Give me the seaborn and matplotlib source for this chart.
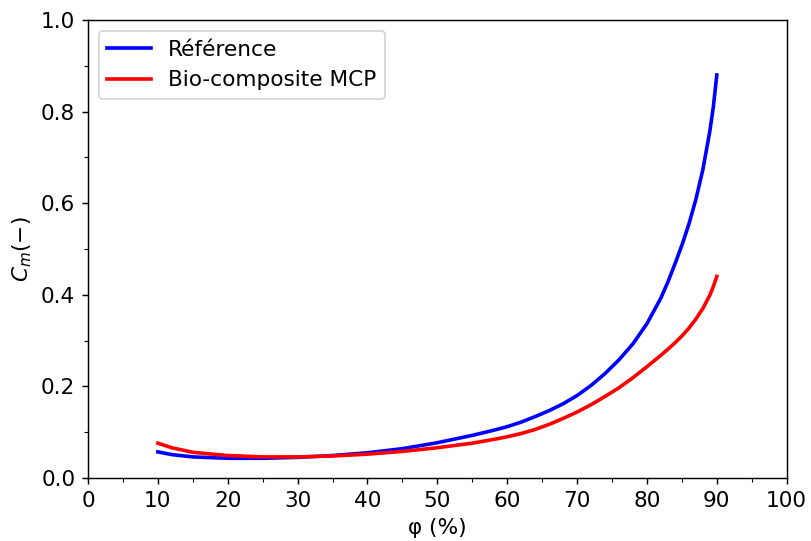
import matplotlib
matplotlib.use("Agg")
import matplotlib.pyplot as plt
from matplotlib.ticker import MultipleLocator
import seaborn as sns
import pandas as pd

phi = [10, 12, 15, 20, 25, 30, 35, 40, 45, 50, 55, 58, 60, 62, 64, 66, 68, 70, 72, 74, 76, 78,
       80, 82, 83, 84, 85, 86, 87, 88, 89, 89.5, 90]
cm_reference = [0.057, 0.051, 0.046, 0.043, 0.043, 0.045, 0.049, 0.055, 0.064, 0.077, 0.093, 0.104,
                0.112, 0.122, 0.134, 0.147, 0.162, 0.180, 0.202, 0.228, 0.258, 0.293,
                0.337, 0.393, 0.428, 0.467, 0.508, 0.554, 0.608, 0.673, 0.757, 0.810, 0.880]
cm_mcp = [0.076, 0.066, 0.056, 0.049, 0.046, 0.046, 0.048, 0.052, 0.058, 0.066, 0.076, 0.084,
          0.090, 0.097, 0.106, 0.117, 0.130, 0.144, 0.160, 0.178, 0.197, 0.219,
          0.243, 0.268, 0.281, 0.295, 0.310, 0.327, 0.347, 0.370, 0.399, 0.418, 0.440]
labels = ["Référence", "Bio-composite MCP"]
colors = ["#0000ff", "#ff0000"]

plt.rcParams['font.family'] = ['DejaVu Sans']
plt.rcParams['font.size'] = 12
fig, ax = plt.subplots(figsize=(811/130, 541/130), dpi=130)
fig.subplots_adjust(left=0.1085, right=0.97, bottom=0.1165, top=0.963)

for vals, lab, col in zip([cm_reference, cm_mcp], labels, colors):
    df = pd.DataFrame({"phi": phi, "cm": vals})
    sns.lineplot(data=df, x="phi", y="cm", ax=ax, color=col, label=lab, linewidth=2.0)

ax.set_xlim(0, 100)
ax.set_ylim(0, 1.0)
ax.xaxis.set_major_locator(MultipleLocator(10))
ax.xaxis.set_minor_locator(MultipleLocator(5))
ax.yaxis.set_major_locator(MultipleLocator(0.2))
ax.yaxis.set_minor_locator(MultipleLocator(0.1))
ax.tick_params(labelsize=12)
ax.set_xlabel("φ (%)", fontsize=12)
ax.set_ylabel("$C_m(-)$", fontsize=12)
ax.legend(loc="upper left", fontsize=12)

fig.savefig("out.png", dpi=130)
